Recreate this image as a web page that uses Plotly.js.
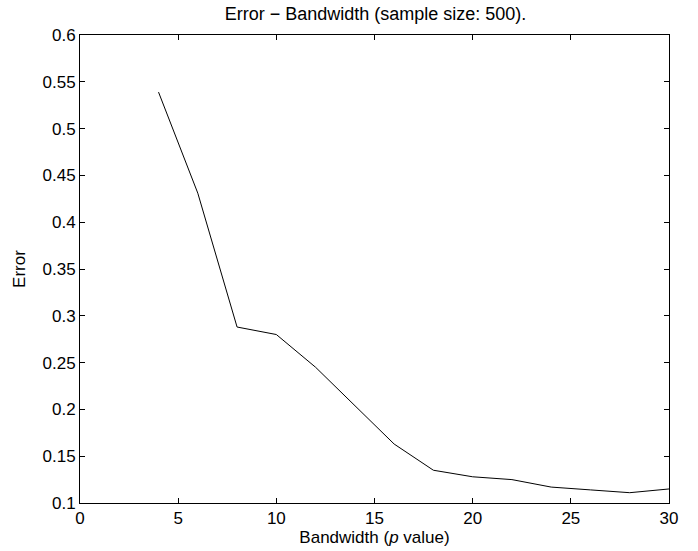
<!DOCTYPE html>
<html>
<head>
<meta charset="utf-8">
<script src="https://cdn.plot.ly/plotly-3.0.1.min.js"></script>
<style>html,body{margin:0;padding:0;background:#fff;}#chart{width:698px;height:551px;}</style>
</head>
<body>
<div id="chart"></div>
<script>
const bandwidth = [4, 6, 8, 10, 12, 14, 16, 18, 20, 22, 24, 26, 28, 30];
const errorVals = [0.539, 0.431, 0.288, 0.280, 0.245, 0.204, 0.163, 0.135, 0.128, 0.125, 0.117, 0.114, 0.111, 0.115];
const xTicks = [0, 5, 10, 15, 20, 25, 30];
const yTicks = [0.1, 0.15, 0.2, 0.25, 0.3, 0.35, 0.4, 0.45, 0.5, 0.55, 0.6];

const fontFam = 'Liberation Sans, Arial, Helvetica, sans-serif';
const trace = {
  x: bandwidth, y: errorVals, type: 'scatter', mode: 'lines',
  line: {color: '#000', width: 1}, hoverinfo: 'none'
};
const axisCommon = {
  showgrid: false, zeroline: false, showline: true, mirror: 'ticks',
  linecolor: '#000', linewidth: 1, ticks: 'inside', ticklen: 5, tickcolor: '#000',
  tickfont: {family: fontFam, size: 17, color: '#000'}
};
const layout = {
  width: 698, height: 551,
  margin: {l: 80, r: 29, t: 35, b: 48},
  paper_bgcolor: '#fff', plot_bgcolor: '#fff',
  showlegend: false,
  title: {text: 'Error \u2212 Bandwidth (sample size: 500).', x: 0.538, xanchor: 'center', y: 0.976, yanchor: 'middle',
          font: {family: fontFam, size: 18, color: '#000'}},
  xaxis: Object.assign({}, axisCommon, {
    range: [0, 30], tickvals: xTicks, ticktext: xTicks.map(String), ticklabelstandoff: 0,
    title: {text: 'Bandwidth (<i>p</i> value)', standoff: 2, font: {family: fontFam, size: 17, color: '#000'}}
  }),
  yaxis: Object.assign({}, axisCommon, {
    range: [0.1, 0.6], tickvals: yTicks, ticktext: yTicks.map(v => String(v)),
    title: {text: 'Error', standoff: 12, font: {family: fontFam, size: 17, color: '#000'}}
  })
};
Plotly.newPlot('chart', [trace], layout, {staticPlot: true, displayModeBar: false});
</script>
</body>
</html>
